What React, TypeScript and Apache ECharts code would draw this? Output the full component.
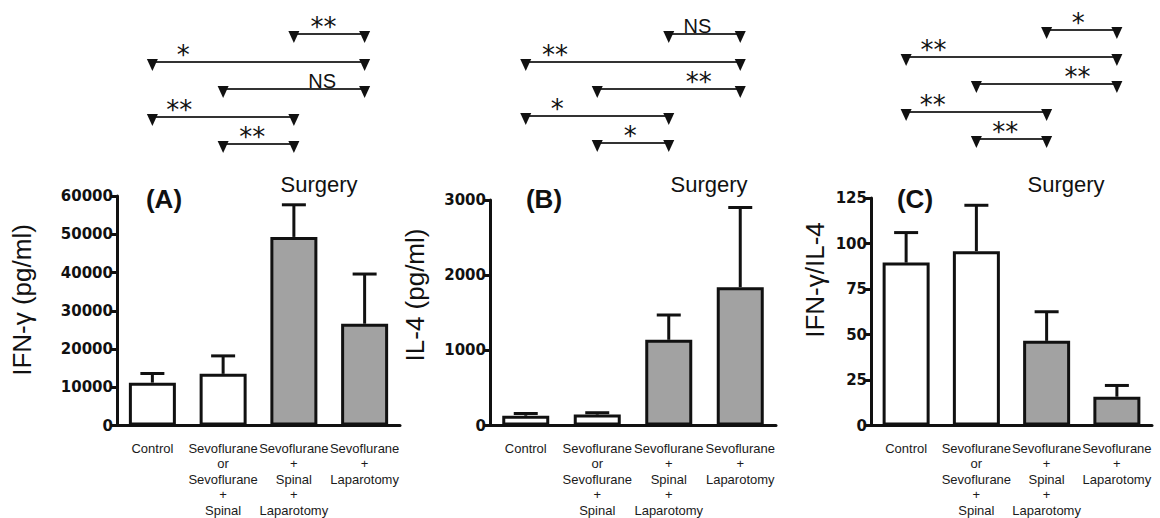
import React, { useEffect, useRef } from "react";
import * as echarts from "echarts";

// ---------- data ----------
const categories = [
  "Control",
  "Sevoflurane\nor\nSevoflurane\n+\nSpinal",
  "Sevoflurane\n+\nSpinal\n+\nLaparotomy",
  "Sevoflurane\n+\nLaparotomy",
];
const surgeryGroup = [false, false, true, true];

const ifnMean = [11200, 13500, 49300, 26600];
const ifnUpper = [13600, 18200, 57700, 39600];
const il4Mean = [130, 145, 1140, 1840];
const il4Upper = [160, 170, 1470, 2900];
const ratioMean = [89.5, 95.8, 46.5, 15.8];
const ratioUpper = [106, 121, 62.5, 22];

const yMaxA = 60000;
const yStepA = 10000;
const yMaxB = 3000;
const yStepB = 1000;
const yMaxC = 125;
const yStepC = 25;

const yTitles = ["IFN-\u03b3 (pg/ml)", "IL-4 (pg/ml)", "IFN-\u03b3/IL-4"];
const panelLetters = ["(A)", "(B)", "(C)"];
const groupLabel = "Surgery";

// significance comparisons, top row first: [from, to, label]
const bracketsA: [number, number, string][] = [
  [2, 3, "**"],
  [0, 3, "*"],
  [1, 3, "NS"],
  [0, 2, "**"],
  [1, 2, "**"],
];
const bracketsB: [number, number, string][] = [
  [2, 3, "NS"],
  [0, 3, "**"],
  [1, 3, "**"],
  [0, 2, "*"],
  [1, 2, "*"],
];
const bracketsC: [number, number, string][] = [
  [2, 3, "*"],
  [0, 3, "**"],
  [1, 3, "**"],
  [0, 2, "**"],
  [1, 2, "**"],
];

// ---------- layout ----------
const grids = [
  { left: 117, top: 196, width: 283, height: 231 },
  { left: 490, top: 200, width: 286, height: 228 },
  { left: 871, top: 198, width: 281, height: 230 },
];
const rowYs = [
  [34, 62, 89, 117, 144],
  [34, 62, 89, 116, 143],
  [30, 57, 84, 112, 139],
];
const labelFracs = [
  [0.42, 0.146, 0.7, 0.19, 0.41],
  [0.4, 0.136, 0.71, 0.22, 0.46],
  [0.45, 0.13, 0.72, 0.19, 0.41],
];
const yTitleX = [22, 415, 815];
const yTitleY = [300, 295, 280];
const letterX = [164, 544, 915];
const surgeryX = [319, 709, 1066];

const INK = "#111";
const GRAY = "#a2a2a2";
const SANS = "'Liberation Sans', Arial, sans-serif";

export default function App() {
  const ref = useRef<HTMLDivElement>(null);

  useEffect(() => {
    if (!ref.current) return;
    const chart = echarts.init(ref.current, null, { renderer: "svg" });

    const means = [ifnMean, il4Mean, ratioMean];
    const uppers = [ifnUpper, il4Upper, ratioUpper];
    const yMax = [yMaxA, yMaxB, yMaxC];
    const yStep = [yStepA, yStepB, yStepC];

    const xAxes = grids.map((_, k) => ({
      type: "category",
      gridIndex: k,
      data: categories,
      boundaryGap: true,
      axisLine: { lineStyle: { color: INK, width: 3 } },
      axisTick: {
        alignWithLabel: true,
        interval: 0,
        length: 7,
        lineStyle: { color: INK, width: 3 },
      },
      axisLabel: {
        interval: 0,
        margin: 15,
        fontFamily: SANS,
        fontSize: 13,
        lineHeight: 15.5,
        color: "#1a1a1a",
      },
    }));

    const yAxes = grids.map((_, k) => ({
      type: "value",
      gridIndex: k,
      min: 0,
      max: yMax[k],
      interval: yStep[k],
      splitLine: { show: false },
      axisLine: { show: true, lineStyle: { color: INK, width: 3 } },
      axisTick: { show: true, length: 6, lineStyle: { color: INK, width: 3 } },
      axisLabel: {
        margin: 4,
        formatter: (v: number) => String(v),
        fontFamily: "'DejaVu Sans', sans-serif",
        fontWeight: "bold",
        fontSize: 15,
        color: INK,
      },
    }));

    const series: any[] = [];
    grids.forEach((_, k) => {
      series.push({
        type: "bar",
        xAxisIndex: k,
        yAxisIndex: k,
        barWidth: 47,
        data: means[k].map((v, i) => ({
          value: v,
          itemStyle: {
            color: surgeryGroup[i] ? GRAY : "#fff",
            borderColor: INK,
            borderWidth: 3,
          },
        })),
        z: 2,
      });
      series.push({
        type: "custom",
        xAxisIndex: k,
        yAxisIndex: k,
        z: 3,
        data: means[k].map((v, i) => [i, v, uppers[k][i]]),
        renderItem: (params: any, api: any) => {
          const p0 = api.coord([api.value(0), api.value(1)]);
          const p1 = api.coord([api.value(0), api.value(2)]);
          const half = 12;
          return {
            type: "group",
            children: [
              {
                type: "line",
                shape: { x1: p0[0], y1: p0[1], x2: p1[0], y2: p1[1] },
                style: { stroke: INK, lineWidth: 3 },
              },
              {
                type: "line",
                shape: { x1: p1[0] - half, y1: p1[1], x2: p1[0] + half, y2: p1[1] },
                style: { stroke: INK, lineWidth: 3 },
              },
            ],
          };
        },
      });
    });

    const option: any = {
      animation: false,
      backgroundColor: "#fff",
      grid: grids.map((g) => ({ ...g, containLabel: false })),
      xAxis: xAxes,
      yAxis: yAxes,
      series,
    };
    chart.setOption(option);

    // annotations
    const graphics: any[] = [];
    const allBrackets = [bracketsA, bracketsB, bracketsC];
    allBrackets.forEach((list, k) => {
      list.forEach((b, r) => {
        const [from, to, label] = b;
        const x1 = chart.convertToPixel({ xAxisIndex: k }, from) as number;
        const x2 = chart.convertToPixel({ xAxisIndex: k }, to) as number;
        const y = rowYs[k][r];
        graphics.push({
          type: "line",
          shape: { x1, y1: y, x2, y2: y },
          style: { stroke: "#333", lineWidth: 1.8 },
        });
        [x1, x2].forEach((x) => {
          graphics.push({
            type: "polygon",
            shape: {
              points: [
                [x - 5.5, y - 3],
                [x + 5.5, y - 3],
                [x, y + 9],
              ],
            },
            style: { fill: INK },
          });
        });
        const tx = x1 + (x2 - x1) * labelFracs[k][r];
        const isNS = label === "NS";
        graphics.push({
          type: "text",
          x: tx,
          y: isNS ? y - 8 : y - 7,
          style: {
            text: label,
            align: "center",
            verticalAlign: "middle",
            fontFamily: isNS ? SANS : "'DejaVu Sans', sans-serif",
            fontSize: isNS ? 20 : 26,
            fill: INK,
          },
        });
      });

      graphics.push({
        type: "text",
        x: yTitleX[k],
        y: yTitleY[k],
        rotation: Math.PI / 2,
        style: {
          text: yTitles[k],
          align: "center",
          verticalAlign: "middle",
          fontFamily: SANS,
          fontSize: 26,
          fill: INK,
        },
      });
      graphics.push({
        type: "text",
        x: letterX[k],
        y: 199,
        style: {
          text: panelLetters[k],
          align: "center",
          verticalAlign: "middle",
          fontFamily: SANS,
          fontWeight: "bold",
          fontSize: 26,
          fill: INK,
        },
      });
      graphics.push({
        type: "text",
        x: surgeryX[k],
        y: 184,
        style: {
          text: groupLabel,
          align: "center",
          verticalAlign: "middle",
          fontFamily: SANS,
          fontSize: 22,
          fill: INK,
        },
      });
    });
    chart.setOption({ graphic: graphics });

    return () => chart.dispose();
  }, []);

  return (
    <div
      ref={ref}
      style={{ position: "absolute", left: 0, top: 0, width: 1160, height: 518, background: "#fff" }}
    />
  );
}
